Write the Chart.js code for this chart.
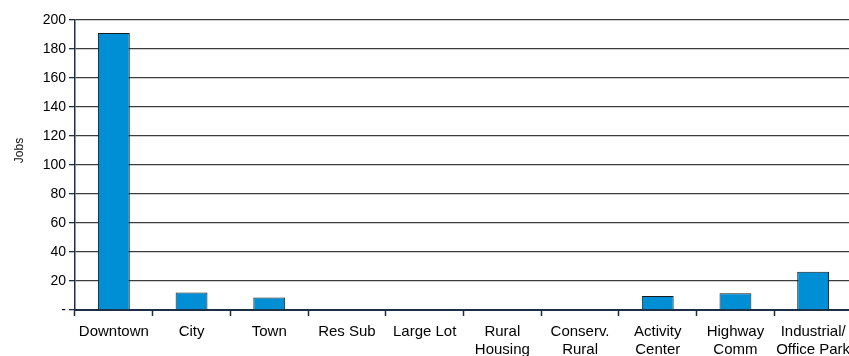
<!DOCTYPE html>
<html>
<head>
<meta charset="utf-8">
<script src="https://cdn.jsdelivr.net/npm/chart.js@4.4.1/dist/chart.umd.min.js"></script>
<style>
  html, body { margin: 0; padding: 0; background: #fff; overflow: hidden; }
  #wrap { position: relative; width: 860px; height: 356px; }
</style>
</head>
<body>
<div id="wrap"><canvas id="jobs"></canvas></div>
<script>
var categories = [
    'Downtown', 'City', 'Town', 'Res Sub', 'Large Lot',
    ['Rural', 'Housing'], ['Conserv.', 'Rural'], ['Activity', 'Center'],
    ['Highway', 'Comm'], ['Industrial/', 'Office Park']
];
var jobs = [191, 12, 8.7, 0, 0, 0, 0, 9.7, 11.5, 26.4];
var yTicks = { min: 0, max: 200, step: 20 };

var axisColor = '#1c2e44';
var gridColor = '#3c3c3c';
var fontFamily = 'Arial, "Liberation Sans", sans-serif';

// rotated "Jobs" caption beside the value axis, a bit above centre
var yCaption = {
    id: 'yCaption',
    afterDraw: function(chart) {
        var ctx = chart.ctx;
        var area = chart.chartArea;
        ctx.save();
        ctx.translate(20, area.top + (area.bottom - area.top) * 0.45);
        ctx.rotate(-Math.PI / 2);
        ctx.font = '12px ' + fontFamily;
        ctx.fillStyle = '#111';
        ctx.textAlign = 'center';
        ctx.textBaseline = 'middle';
        ctx.fillText('Jobs', 0, 0);
        ctx.restore();
    }
};

new Chart(document.getElementById('jobs').getContext('2d'), {
    type: 'bar',
    data: {
        labels: categories,
        datasets: [{
            label: 'Jobs',
            data: jobs,
            backgroundColor: '#008fd5',
            borderColor: '#1a1a1a',
            borderWidth: 1,
            borderSkipped: 'bottom',
            categoryPercentage: 0.82,
            barPercentage: 0.5
        }]
    },
    options: {
        responsive: true,
        maintainAspectRatio: false,
        animation: false,
        layout: { padding: { top: 20, right: 8, left: 0, bottom: 0 } },
        plugins: {
            legend: { display: false },
            tooltip: { enabled: false }
        },
        scales: {
            x: {
                offset: true,
                grid: {
                    offset: true,
                    drawOnChartArea: false,
                    color: axisColor,
                    tickLength: 6,
                    tickWidth: 1.5
                },
                border: { color: axisColor, width: 2 },
                ticks: {
                    color: '#000',
                    font: { family: fontFamily, size: 15, lineHeight: 1.2 },
                    padding: 7,
                    maxRotation: 0,
                    autoSkip: false
                },
                afterFit: function(scale) { scale.height = 46; }
            },
            y: {
                min: yTicks.min,
                max: yTicks.max,
                grid: {
                    color: gridColor,
                    lineWidth: 1.3,
                    tickLength: 6,
                    tickColor: axisColor
                },
                border: { color: axisColor, width: 1.5 },
                ticks: {
                    stepSize: yTicks.step,
                    color: '#000',
                    padding: 3,
                    font: { family: fontFamily, size: 14 },
                    callback: function(v) { return v === 0 ? '-' : v; }
                },
                afterFit: function(scale) { scale.width = 75; }
            }
        }
    },
    plugins: [yCaption]
});
</script>
</body>
</html>
